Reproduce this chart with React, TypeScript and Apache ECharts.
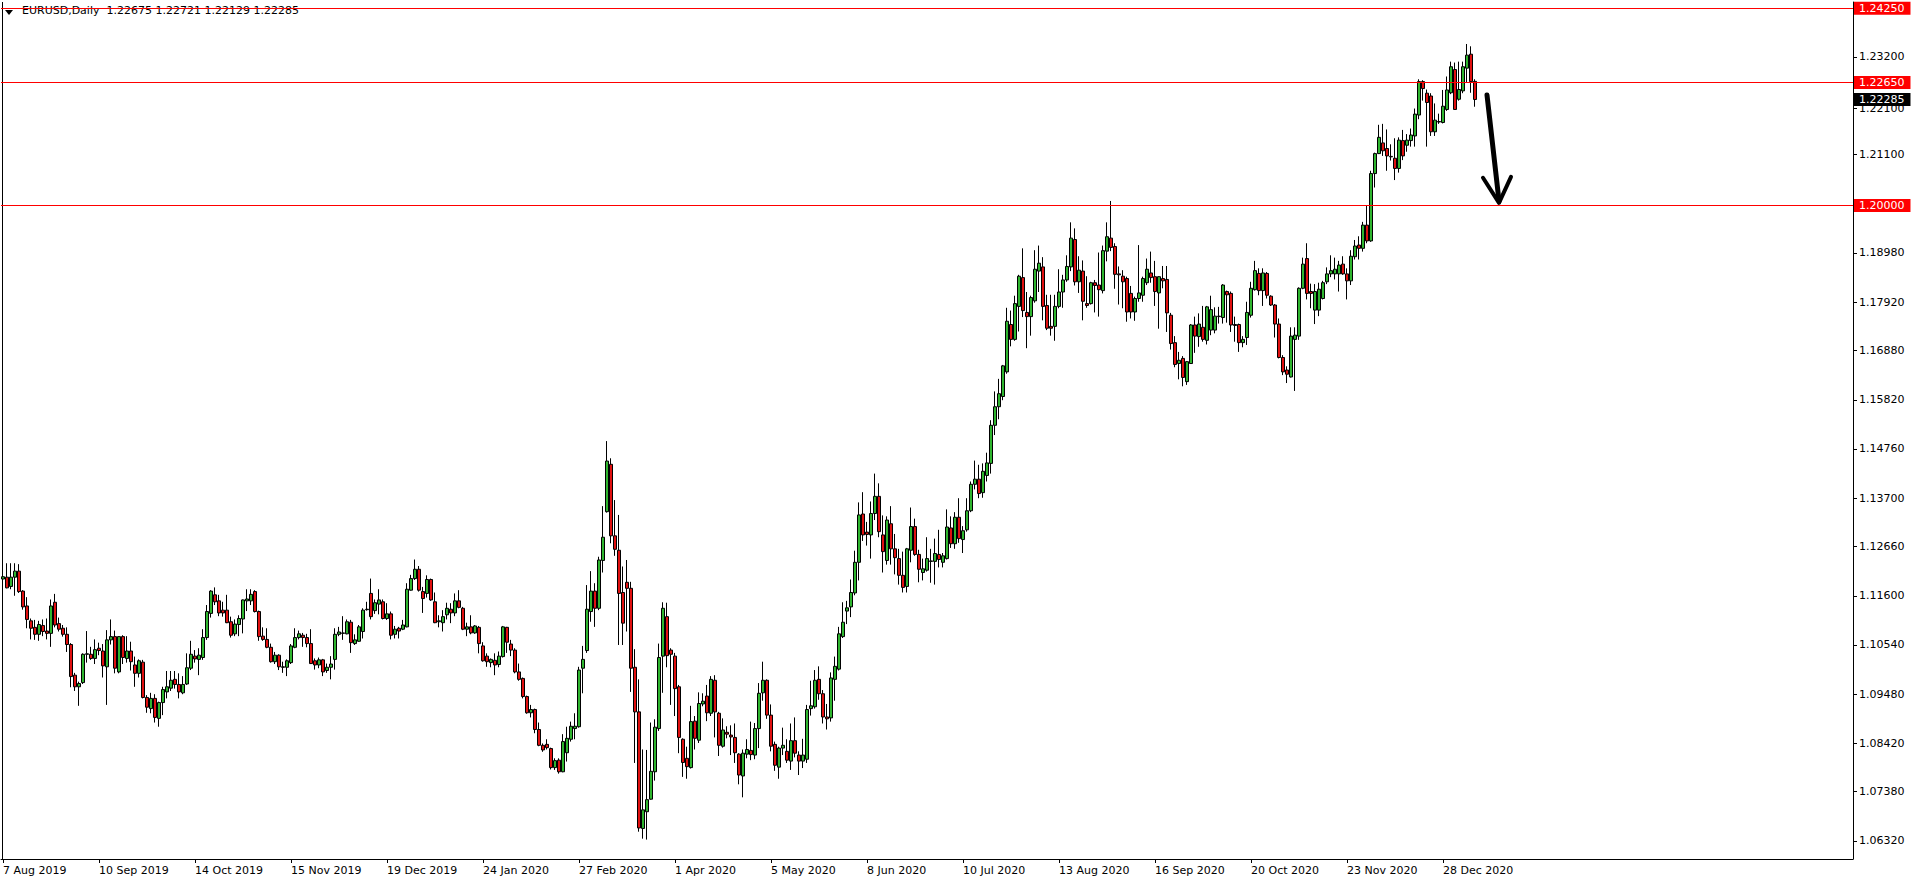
import React, { useEffect, useRef } from 'react';
import * as echarts from 'echarts';

// EURUSD daily bars, 7 Aug 2019 .. 8 Jan 2021 (index 0..368)
const opens = [
  1.1196,1.1200,1.1180,1.1200,1.1213,1.1170,1.1138,1.1106,1.1092,1.1077,
  1.1096,1.1084,1.1079,1.1146,1.1100,1.1090,1.1077,1.1055,1.0989,1.0964,
  1.0973,1.1034,1.1034,1.1025,1.1047,1.1041,1.1007,1.1065,1.1072,1.0996,
  1.1072,1.1025,1.1041,1.1011,1.0993,1.1017,1.0941,1.0917,1.0939,1.0896,
  1.0930,1.0953,1.0961,1.0980,1.0969,1.0951,1.0970,1.1004,1.1030,1.1023,
  1.1027,1.1070,1.1122,1.1162,1.1149,1.1129,1.1129,1.1104,1.1078,1.1098,
  1.1110,1.1149,1.1149,1.1169,1.1126,1.1073,1.1066,1.1049,1.1018,1.1032,
  1.1006,1.1006,1.1016,1.1049,1.1070,1.1075,1.1070,1.1057,1.1020,1.1011,
  1.1022,1.0999,1.1006,1.1023,1.1077,1.1079,1.1078,1.1103,1.1057,1.1062,
  1.1083,1.1130,1.1165,1.1128,1.1142,1.1147,1.1111,1.1121,1.1077,1.1090,
  1.1088,1.1093,1.1172,1.1197,1.1217,1.1169,1.1165,1.1195,1.1147,1.1104,
  1.1102,1.1119,1.1131,1.1123,1.1149,1.1133,1.1088,1.1093,1.1080,1.1092,
  1.1052,1.1030,1.1016,1.1021,1.1012,1.1029,1.1092,1.1056,1.1043,1.0996,
  1.0982,1.0943,1.0908,1.0915,1.0872,1.0838,1.0840,1.0831,1.0790,1.0806,
  1.0781,1.0822,1.0851,1.0874,1.0878,1.1004,1.1042,1.1126,1.1170,1.1133,
  1.1236,1.1341,1.1443,1.1289,1.1258,1.1167,1.1189,1.1176,1.1006,1.0910,
  1.0659,1.0695,1.0722,1.0781,1.0874,1.1030,1.1115,1.1043,1.1030,1.0964,
  1.0851,1.0810,1.0790,1.0890,1.0849,1.0927,1.0944,1.0907,1.0978,1.0907,
  1.0836,1.0866,1.0860,1.0855,1.0819,1.0772,1.0819,1.0827,1.0817,1.0874,
  1.0951,1.0978,1.0903,1.0840,1.0791,1.0832,1.0825,1.0804,1.0848,1.0817,
  1.0804,1.0808,1.0917,1.0921,1.0980,1.0949,1.0899,1.0897,1.0980,1.1002,
  1.1072,1.1127,1.1136,1.1166,1.1232,1.1336,1.1297,1.1291,1.1337,1.1374,
  1.1291,1.1236,1.1315,1.1261,1.1240,1.1204,1.1180,1.1258,1.1309,1.1249,
  1.1210,1.1215,1.1234,1.1234,1.1249,1.1232,1.1240,1.1306,1.1272,1.1329,
  1.1281,1.1302,1.1343,1.1400,1.1411,1.1382,1.1419,1.1445,1.1527,1.1567,
  1.1589,1.1642,1.1744,1.1712,1.1783,1.1845,1.1770,1.1761,1.1795,1.1859,
  1.1868,1.1785,1.1740,1.1740,1.1783,1.1814,1.1840,1.1868,1.1927,1.1836,
  1.1859,1.1789,1.1789,1.1834,1.1829,1.1817,1.1902,1.1930,1.1912,1.1853,
  1.1848,1.1843,1.1811,1.1771,1.1800,1.1807,1.1834,1.1855,1.1847,1.1812,
  1.1843,1.1841,1.1764,1.1705,1.1660,1.1671,1.1621,1.1660,1.1743,1.1718,
  1.1738,1.1710,1.1732,1.1732,1.1761,1.1759,1.1815,1.1811,1.1744,1.1744,
  1.1705,1.1716,1.1764,1.1819,1.1854,1.1817,1.1854,1.1805,1.1786,1.1745,
  1.1673,1.1646,1.1631,1.1712,1.1719,1.1822,1.1886,1.1815,1.1775,1.1775,
  1.1800,1.1836,1.1853,1.1853,1.1853,1.1874,1.1853,1.1838,1.1890,1.1915,
  1.1908,1.1958,1.1924,1.2069,1.2112,1.2135,1.2123,1.2106,1.2102,1.2080,
  1.2140,1.2130,1.2140,1.2150,1.2195,1.2267,1.2242,1.2236,1.2159,1.2181,
  1.2179,1.2207,1.2243,1.2293,1.2229,1.2247,1.2296,1.2326,1.22675,
];

const highs = [
  1.1240,1.1230,1.1230,1.1230,1.1228,1.1172,1.1157,1.1111,1.1108,1.1106,
  1.1109,1.1111,1.1152,1.1164,1.1113,1.1097,1.1092,1.1058,1.0994,1.0975,
  1.1036,1.1084,1.1050,1.1066,1.1059,1.1056,1.1086,1.1109,1.1085,1.1073,
  1.1075,1.1073,1.1061,1.1029,1.1023,1.1022,1.0946,1.0951,1.0948,1.0932,
  1.0964,1.0998,1.0998,1.0998,1.0993,1.0987,1.1036,1.1063,1.1043,1.1047,
  1.1088,1.1140,1.1172,1.1178,1.1162,1.1147,1.1162,1.1115,1.1109,1.1118,
  1.1152,1.1174,1.1174,1.1172,1.1128,1.1092,1.1090,1.1057,1.1039,1.1034,
  1.1018,1.1023,1.1056,1.1090,1.1085,1.1080,1.1078,1.1088,1.1025,1.1027,
  1.1024,1.1014,1.1030,1.1090,1.1093,1.1116,1.1109,1.1108,1.1077,1.1097,
  1.1133,1.1147,1.1197,1.1152,1.1174,1.1152,1.1144,1.1126,1.1095,1.1093,
  1.1108,1.1187,1.1205,1.1238,1.1224,1.1179,1.1204,1.1197,1.1167,1.1118,
  1.1129,1.1145,1.1144,1.1165,1.1172,1.1136,1.1102,1.1118,1.1097,1.1095,
  1.1060,1.1036,1.1025,1.1036,1.1040,1.1095,1.1093,1.1065,1.1047,1.1014,
  1.0984,1.0945,1.0925,1.0917,1.0887,1.0842,1.0851,1.0833,1.0810,1.0810,
  1.0862,1.0878,1.0889,1.0907,1.1007,1.1052,1.1183,1.1213,1.1187,1.1244,
  1.1353,1.1493,1.1456,1.1366,1.1334,1.1223,1.1237,1.1190,1.1045,1.0980,
  1.0829,1.0828,1.0887,1.0894,1.1057,1.1146,1.1145,1.1047,1.1037,1.0968,
  1.0853,1.0835,1.0923,1.0901,1.0952,1.0950,1.0968,1.0987,1.0989,1.0910,
  1.0896,1.0879,1.0881,1.0885,1.0821,1.0829,1.0851,1.0889,1.0886,1.0972,
  1.1018,1.0980,1.0926,1.0846,1.0835,1.0876,1.0851,1.0885,1.0898,1.0825,
  1.0852,1.0925,1.0977,1.1000,1.1008,1.0957,1.0927,1.0995,1.1029,1.1093,
  1.1146,1.1149,1.1195,1.1257,1.1361,1.1383,1.1319,1.1363,1.1423,1.1402,
  1.1333,1.1331,1.1353,1.1293,1.1261,1.1255,1.1263,1.1350,1.1326,1.1259,
  1.1240,1.1286,1.1261,1.1283,1.1302,1.1252,1.1346,1.1331,1.1340,1.1370,
  1.1310,1.1370,1.1406,1.1451,1.1442,1.1445,1.1468,1.1538,1.1600,1.1627,
  1.1657,1.1780,1.1774,1.1806,1.1851,1.1908,1.1814,1.1806,1.1904,1.1914,
  1.1889,1.1808,1.1808,1.1808,1.1863,1.1851,1.1893,1.1964,1.1951,1.1891,
  1.1882,1.1848,1.1836,1.1840,1.1899,1.1914,1.1964,1.2010,1.1919,1.1869,
  1.1861,1.1847,1.1827,1.1804,1.1915,1.1847,1.1886,1.1901,1.1881,1.1848,
  1.1870,1.1870,1.1769,1.1719,1.1685,1.1676,1.1665,1.1745,1.1761,1.1768,
  1.1784,1.1784,1.1806,1.1781,1.1782,1.1831,1.1817,1.1815,1.1761,1.1746,
  1.1719,1.1793,1.1836,1.1881,1.1865,1.1865,1.1857,1.1807,1.1788,1.1757,
  1.1678,1.1654,1.1738,1.1738,1.1824,1.1888,1.1919,1.1832,1.1831,1.1834,
  1.1838,1.1867,1.1893,1.1888,1.1881,1.1891,1.1865,1.1904,1.1926,1.1934,
  1.1965,1.2001,1.2075,1.2114,1.2174,1.2176,1.2164,1.2132,1.2145,1.2147,
  1.2163,1.2154,1.2166,1.2209,1.2272,1.2270,1.2250,1.2242,1.2220,1.2198,
  1.2249,1.2278,1.2310,1.2308,1.2310,1.2310,1.2348,1.2343,1.22721,
];

const lows = [
  1.1176,1.1176,1.1174,1.1160,1.1166,1.1130,1.1090,1.1066,1.1065,1.1063,
  1.1073,1.1066,1.1050,1.1092,1.1083,1.1072,1.1039,1.0963,1.0955,1.0923,
  1.0970,1.1016,1.1022,1.1013,1.1032,1.0984,1.0925,1.1055,1.0993,1.0993,
  1.1013,1.1016,1.0999,1.0964,1.0984,1.0939,1.0908,1.0907,1.0887,1.0878,
  1.0903,1.0939,1.0955,1.0960,1.0939,1.0948,1.0968,1.1000,1.1016,1.0989,
  1.1022,1.1065,1.1113,1.1140,1.1116,1.1115,1.1101,1.1070,1.1073,1.1073,
  1.1079,1.1127,1.1140,1.1124,1.1063,1.1063,1.1047,1.1016,1.1013,1.1000,
  1.0994,1.0987,1.1013,1.1047,1.1066,1.1050,1.1049,1.1013,1.1001,1.1004,
  1.0987,1.0994,1.0980,1.1001,1.1073,1.1065,1.1077,1.1037,1.1054,1.1061,
  1.1068,1.1128,1.1109,1.1121,1.1120,1.1109,1.1108,1.1066,1.1068,1.1068,
  1.1086,1.1092,1.1171,1.1194,1.1169,1.1123,1.1156,1.1149,1.1101,1.1092,
  1.1083,1.1109,1.1101,1.1116,1.1133,1.1086,1.1073,1.1077,1.1078,1.1036,
  1.1018,1.1007,1.1006,1.0989,1.1006,1.1027,1.1037,1.1030,1.0993,1.0977,
  1.0939,1.0906,1.0898,1.0864,1.0836,1.0824,1.0829,1.0786,1.0785,1.0777,
  1.0780,1.0803,1.0846,1.0851,1.0876,1.0950,1.1037,1.1104,1.1093,1.1129,
  1.1210,1.1339,1.1273,1.1246,1.1054,1.1054,1.1083,1.0953,1.0800,1.0652,
  1.0637,1.0635,1.0721,1.0762,1.0869,1.0951,1.1006,1.0925,1.0901,1.0821,
  1.0770,1.0766,1.0788,1.0829,1.0843,1.0922,1.0890,1.0901,1.0855,1.0815,
  1.0833,1.0853,1.0817,1.0800,1.0754,1.0726,1.0810,1.0806,1.0808,1.0832,
  1.0934,1.0895,1.0825,1.0783,1.0766,1.0817,1.0800,1.0785,1.0812,1.0774,
  1.0789,1.0800,1.0902,1.0917,1.0936,1.0885,1.0872,1.0889,1.0934,1.0999,
  1.1069,1.1099,1.1114,1.1161,1.1193,1.1278,1.1268,1.1240,1.1323,1.1286,
  1.1210,1.1227,1.1227,1.1206,1.1184,1.1167,1.1167,1.1232,1.1246,1.1189,
  1.1193,1.1212,1.1188,1.1184,1.1221,1.1221,1.1238,1.1263,1.1261,1.1274,
  1.1252,1.1298,1.1340,1.1389,1.1370,1.1371,1.1406,1.1423,1.1506,1.1540,
  1.1581,1.1638,1.1697,1.1709,1.1729,1.1760,1.1693,1.1720,1.1791,1.1814,
  1.1753,1.1732,1.1720,1.1709,1.1779,1.1780,1.1836,1.1859,1.1828,1.1812,
  1.1753,1.1780,1.1787,1.1770,1.1761,1.1811,1.1880,1.1902,1.1821,1.1787,
  1.1779,1.1750,1.1757,1.1752,1.1793,1.1793,1.1829,1.1834,1.1784,1.1735,
  1.1822,1.1728,1.1690,1.1652,1.1626,1.1611,1.1614,1.1659,1.1683,1.1696,
  1.1707,1.1701,1.1721,1.1725,1.1746,1.1746,1.1748,1.1728,1.1707,1.1685,
  1.1695,1.1700,1.1759,1.1817,1.1807,1.1784,1.1800,1.1784,1.1716,1.1671,
  1.1635,1.1618,1.1630,1.1601,1.1711,1.1820,1.1798,1.1779,1.1745,1.1762,
  1.1798,1.1831,1.1846,1.1841,1.1815,1.1851,1.1798,1.1829,1.1884,1.1884,
  1.1901,1.1919,1.1922,1.2039,1.2111,1.2107,1.2075,1.2097,1.2055,1.2071,
  1.2098,1.2116,1.2127,1.2127,1.2186,1.2226,1.2127,1.2150,1.2150,1.2176,
  1.2177,1.2204,1.2240,1.2206,1.2226,1.2242,1.2265,1.2243,1.22129,
];

const closes = [
  1.1201,1.1177,1.1200,1.1213,1.1169,1.1136,1.1109,1.1090,1.1077,1.1098,
  1.1083,1.1079,1.1138,1.1097,1.1088,1.1077,1.1055,1.0986,1.0964,1.0971,
  1.1034,1.1035,1.1025,1.1044,1.1042,1.1009,1.1065,1.1072,1.1004,1.1072,
  1.1027,1.1041,1.1018,1.0993,1.1020,1.0941,1.0920,1.0939,1.0898,1.0930,
  1.0958,1.0964,1.0978,1.0969,1.0953,1.0969,1.1005,1.1034,1.1024,1.1032,
  1.1070,1.1126,1.1170,1.1147,1.1123,1.1123,1.1102,1.1075,1.1099,1.1111,
  1.1151,1.1153,1.1163,1.1126,1.1072,1.1066,1.1049,1.1018,1.1032,1.1007,
  1.1007,1.1020,1.1052,1.1070,1.1078,1.1070,1.1057,1.1014,1.1011,1.1022,
  1.0996,1.1006,1.1013,1.1077,1.1082,1.1080,1.1104,1.1059,1.1065,1.1093,
  1.1129,1.1131,1.1115,1.1145,1.1151,1.1111,1.1121,1.1075,1.1088,1.1084,
  1.1097,1.1174,1.1197,1.1217,1.1172,1.1154,1.1195,1.1151,1.1102,1.1106,
  1.1115,1.1133,1.1123,1.1149,1.1135,1.1088,1.1093,1.1080,1.1095,1.1057,
  1.1020,1.1018,1.1023,1.1011,1.1030,1.1093,1.1060,1.1043,1.0996,1.0980,
  1.0943,1.0908,1.0915,1.0872,1.0838,1.0828,1.0833,1.0790,1.0805,1.0781,
  1.0846,1.0853,1.0879,1.0879,1.1000,1.1023,1.1131,1.1170,1.1133,1.1237,
  1.1286,1.1450,1.1289,1.1260,1.1165,1.1101,1.1176,1.1004,1.0910,1.0660,
  1.0699,1.0721,1.0782,1.0877,1.1027,1.1133,1.1031,1.1034,1.0960,1.0855,
  1.0801,1.0792,1.0889,1.0853,1.0928,1.0933,1.0908,1.0980,1.0910,1.0838,
  1.0871,1.0862,1.0856,1.0822,1.0774,1.0821,1.0829,1.0818,1.0874,1.0950,
  1.0978,1.0903,1.0836,1.0795,1.0832,1.0838,1.0806,1.0848,1.0821,1.0804,
  1.0817,1.0915,1.0923,1.0978,1.0949,1.0899,1.0895,1.0983,1.1008,1.1078,
  1.1103,1.1134,1.1167,1.1232,1.1334,1.1291,1.1292,1.1337,1.1374,1.1298,
  1.1255,1.1323,1.1261,1.1242,1.1204,1.1178,1.1261,1.1309,1.1249,1.1217,
  1.1218,1.1240,1.1235,1.1251,1.1238,1.1246,1.1308,1.1272,1.1329,1.1283,
  1.1300,1.1343,1.1400,1.1411,1.1380,1.1428,1.1446,1.1527,1.1567,1.1595,
  1.1655,1.1751,1.1712,1.1789,1.1848,1.1774,1.1761,1.1802,1.1863,1.1876,
  1.1783,1.1736,1.1736,1.1783,1.1814,1.1840,1.1869,1.1930,1.1836,1.1861,
  1.1794,1.1785,1.1834,1.1828,1.1819,1.1903,1.1933,1.1910,1.1852,1.1851,
  1.1836,1.1771,1.1771,1.1800,1.1812,1.1843,1.1863,1.1845,1.1815,1.1847,
  1.1838,1.1769,1.1703,1.1658,1.1667,1.1630,1.1664,1.1743,1.1719,1.1745,
  1.1712,1.1782,1.1776,1.1762,1.1762,1.1829,1.1808,1.1743,1.1742,1.1705,
  1.1712,1.1770,1.1822,1.1860,1.1817,1.1855,1.1807,1.1786,1.1745,1.1673,
  1.1642,1.1637,1.1719,1.1721,1.1822,1.1874,1.1811,1.1811,1.1815,1.1820,
  1.1834,1.1853,1.1860,1.1863,1.1872,1.1853,1.1838,1.1891,1.1913,1.1908,
  1.1958,1.1924,1.2069,1.2112,1.2147,1.2118,1.2107,1.2105,1.2080,1.2141,
  1.2107,1.2141,1.2152,1.2197,1.2267,1.2252,1.2222,1.2159,1.2184,1.2180,
  1.2214,1.2249,1.2299,1.2207,1.2250,1.2299,1.2324,1.2267,1.22285,
];

const dateLabels = [
  '7 Aug 2019', '10 Sep 2019', '14 Oct 2019', '15 Nov 2019', '19 Dec 2019',
  '24 Jan 2020', '27 Feb 2020', '1 Apr 2020', '5 May 2020', '8 Jun 2020',
  '10 Jul 2020', '13 Aug 2020', '16 Sep 2020', '20 Oct 2020', '23 Nov 2020',
  '28 Dec 2020',
];
const LABEL_STEP = 24;
const SLOT_COUNT = 463;

const priceTicks = [
  1.0632, 1.0738, 1.0842, 1.0948, 1.1054, 1.1160, 1.1266, 1.1370,
  1.1476, 1.1582, 1.1688, 1.1792, 1.1898, 1.2110, 1.2210, 1.2320,
];
const levelLines = [1.2425, 1.2265, 1.2];
const Y_MIN = 1.05932;
const Y_MAX = 1.24384;

const arrowShaft = [[371, 1.2238], [374, 1.2010]];
const arrowHead = [[370, 1.2060], [374, 1.2006], [377, 1.2062]];

const FONT = 'DejaVu Sans';

export default function App() {
  const ref = useRef<HTMLDivElement>(null);

  useEffect(() => {
    document.body.style.margin = '0';
    document.body.style.overflow = 'hidden';
    const chart = echarts.init(ref.current as HTMLDivElement, null, { renderer: 'svg' });

    const categories = Array.from({ length: SLOT_COUNT }, (_, i) => String(i));
    const candles = opens.map((o, i) => [o, closes[i], lows[i], highs[i]]);
    const last = candles.length - 1;
    const showIdx = (i: number) => i % LABEL_STEP === 0 && i / LABEL_STEP < dateLabels.length;

    chart.setOption({
      animation: false,
      backgroundColor: '#ffffff',
      grid: { left: 1, right: 63, top: 2, bottom: 25 },
      tooltip: { show: false },
      xAxis: {
        type: 'category',
        data: categories,
        boundaryGap: true,
        axisLine: { show: true, lineStyle: { color: '#000', width: 1 } },
        axisTick: {
          show: true,
          alignWithLabel: true,
          interval: (i: number) => showIdx(i),
          length: 4,
          lineStyle: { color: '#000' },
        },
        axisLabel: {
          interval: (i: number) => showIdx(i),
          formatter: (v: string) => dateLabels[Number(v) / LABEL_STEP] ?? '',
          align: 'left',
          margin: 6,
          color: '#000',
          fontFamily: FONT,
          fontSize: 11,
        },
        splitLine: { show: false },
      },
      yAxis: {
        type: 'value',
        position: 'right',
        min: Y_MIN,
        max: Y_MAX,
        axisLine: { show: true, lineStyle: { color: '#000', width: 1 } },
        axisTick: { show: true, length: 4, customValues: priceTicks, lineStyle: { color: '#000' } },
        axisLabel: {
          customValues: priceTicks,
          formatter: (v: number) => v.toFixed(5),
          margin: 6,
          color: '#000',
          fontFamily: FONT,
          fontSize: 11,
        },
        splitLine: { show: false },
      },
      series: [
        {
          type: 'candlestick',
          data: candles,
          barWidth: 3,
          itemStyle: {
            color: '#2fb52f',
            color0: '#e01010',
            borderColor: '#000',
            borderColor0: '#000',
            borderWidth: 1,
          },
          emphasis: { disabled: true },
          markLine: {
            silent: true,
            symbol: 'none',
            precision: 5,
            animation: false,
            lineStyle: { color: '#ff0000', width: 1, type: 'solid' },
            emphasis: { disabled: true },
            label: {
              show: true,
              position: 'end',
              distance: 1,
              formatter: (p: any) => Number(p.value).toFixed(5),
              color: '#ffffff',
              backgroundColor: '#ff0000',
              padding: [0, 6, 0, 5],
              lineHeight: 13,
              fontFamily: FONT,
              fontSize: 11,
            },
            data: [
              ...levelLines.map((v) => ({ yAxis: v })),
              {
                yAxis: closes[last],
                lineStyle: { color: 'rgba(0,0,0,0)' },
                label: { backgroundColor: '#000000', color: '#ffffff' },
              },
            ],
          },
        },
      ],
    });

    const toPx = (p: number[]) =>
      chart.convertToPixel({ gridIndex: 0 }, p) as number[];
    const shaft = arrowShaft.map(toPx);
    const head = arrowHead.map(toPx);
    const header = `EURUSD,Daily  ${opens[last].toFixed(5)} ${highs[last].toFixed(5)} ${lows[last].toFixed(5)} ${closes[last].toFixed(5)}`;

    chart.setOption({
      graphic: [
        {
          type: 'line',
          shape: { x1: 2.5, y1: 2, x2: 2.5, y2: 859 },
          style: { stroke: '#000', lineWidth: 1 },
          silent: true,
        },
        {
          type: 'polygon',
          shape: { points: [[5, 10], [13, 10], [9, 15]] },
          style: { fill: '#000' },
          silent: true,
        },
        {
          type: 'text',
          x: 22,
          y: 5,
          style: { text: header, fill: '#000', font: `11px "${FONT}"`, textVerticalAlign: 'top' },
          silent: true,
        },
        {
          type: 'polyline',
          shape: { points: shaft },
          style: { stroke: '#000', lineWidth: 5, lineCap: 'round' },
          z: 100,
          silent: true,
        },
        {
          type: 'polyline',
          shape: { points: head },
          style: { stroke: '#000', lineWidth: 4, lineCap: 'round', lineJoin: 'round', fill: 'none' },
          z: 100,
          silent: true,
        },
      ],
    });

    return () => chart.dispose();
  }, []);

  return (
    <div
      ref={ref}
      style={{ position: 'fixed', left: 0, top: 0, width: 1916, height: 884, background: '#fff' }}
    />
  );
}
